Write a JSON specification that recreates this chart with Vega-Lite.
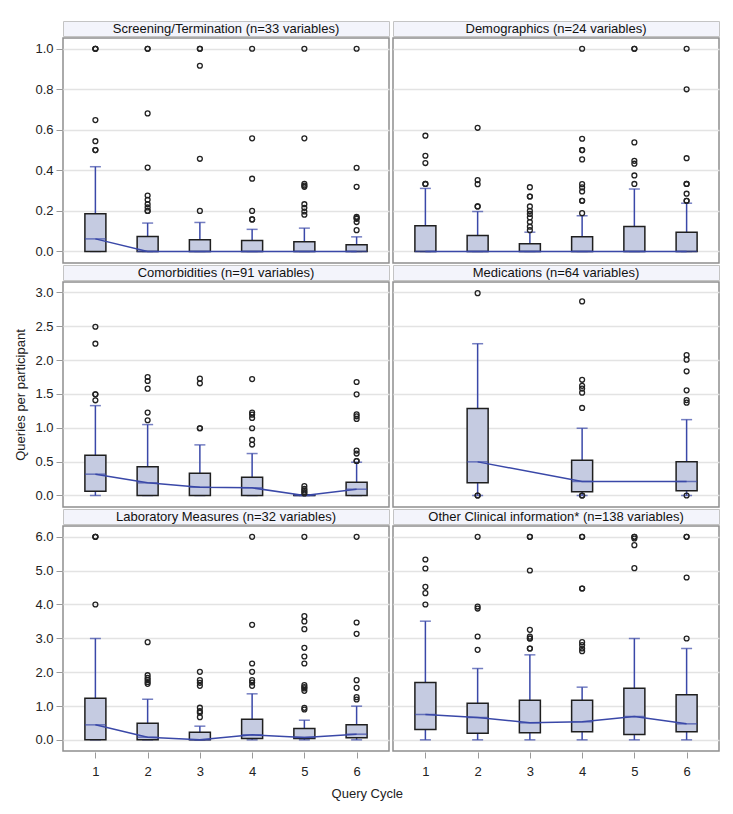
{
 "$schema": "https://vega.github.io/schema/vega-lite/v6.json",
 "padding": {"left": 14, "top": 20, "right": 10, "bottom": 5},
 "background": "white",
 "title": {"text": "Query Cycle", "orient": "bottom", "anchor": "middle", "fontSize": 13, "fontWeight": "normal", "font": "Liberation Sans", "color": "#222", "offset": 10},
 "config": {
  "font": "Liberation Sans",
  "view": {"stroke": "#8f8f8f", "strokeWidth": 1.5},
  "axis": {"labelFont": "Liberation Sans", "labelFontSize": 13, "labelColor": "#222", "labelOverlap": false, "titleFont": "Liberation Sans", "titleFontSize": 13, "titleFontWeight": "normal", "titleColor": "#222", "tickColor": "#9a9a9a", "tickSize": 6, "domain": false, "gridColor": "#e3e3e3", "gridWidth": 1.5}
 },
 "datasets": {
  "titles": [
   {"row": 1, "col": 1, "title": "Screening/Termination (n=33 variables)"},
   {"row": 1, "col": 2, "title": "Demographics (n=24 variables)"},
   {"row": 2, "col": 1, "title": "Comorbidities (n=91 variables)"},
   {"row": 2, "col": 2, "title": "Medications (n=64 variables)"},
   {"row": 3, "col": 1, "title": "Laboratory Measures (n=32 variables)"},
   {"row": 3, "col": 2, "title": "Other Clinical information* (n=138 variables)"}
  ],
  "d": [
   {"row":1,"col":1,"cycle":1,"kind":"box","q1":0,"med":0.062,"q3":0.186,"lo":0,"hi":0.418},
   {"row":1,"col":1,"cycle":2,"kind":"box","q1":0,"med":0,"q3":0.074,"lo":0,"hi":0.14},
   {"row":1,"col":1,"cycle":3,"kind":"box","q1":0,"med":0,"q3":0.058,"lo":0,"hi":0.143},
   {"row":1,"col":1,"cycle":4,"kind":"box","q1":0,"med":0,"q3":0.054,"lo":0,"hi":0.109},
   {"row":1,"col":1,"cycle":5,"kind":"box","q1":0,"med":0,"q3":0.048,"lo":0,"hi":0.115},
   {"row":1,"col":1,"cycle":6,"kind":"box","q1":0,"med":0,"q3":0.033,"lo":0,"hi":0.072},
   {"row":1,"col":1,"cycle":1,"kind":"out","value":1},
   {"row":1,"col":1,"cycle":1,"kind":"out","value":1},
   {"row":1,"col":1,"cycle":1,"kind":"out","value":1},
   {"row":1,"col":1,"cycle":1,"kind":"out","value":0.648},
   {"row":1,"col":1,"cycle":1,"kind":"out","value":0.544},
   {"row":1,"col":1,"cycle":1,"kind":"out","value":0.5},
   {"row":1,"col":1,"cycle":1,"kind":"out","value":0.5},
   {"row":1,"col":1,"cycle":2,"kind":"out","value":1},
   {"row":1,"col":1,"cycle":2,"kind":"out","value":1},
   {"row":1,"col":1,"cycle":2,"kind":"out","value":0.681},
   {"row":1,"col":1,"cycle":2,"kind":"out","value":0.414},
   {"row":1,"col":1,"cycle":2,"kind":"out","value":0.276},
   {"row":1,"col":1,"cycle":2,"kind":"out","value":0.255},
   {"row":1,"col":1,"cycle":2,"kind":"out","value":0.233},
   {"row":1,"col":1,"cycle":2,"kind":"out","value":0.217},
   {"row":1,"col":1,"cycle":2,"kind":"out","value":0.2},
   {"row":1,"col":1,"cycle":2,"kind":"out","value":0.2},
   {"row":1,"col":1,"cycle":3,"kind":"out","value":1},
   {"row":1,"col":1,"cycle":3,"kind":"out","value":1},
   {"row":1,"col":1,"cycle":3,"kind":"out","value":0.916},
   {"row":1,"col":1,"cycle":3,"kind":"out","value":0.457},
   {"row":1,"col":1,"cycle":3,"kind":"out","value":0.2},
   {"row":1,"col":1,"cycle":4,"kind":"out","value":1},
   {"row":1,"col":1,"cycle":4,"kind":"out","value":0.558},
   {"row":1,"col":1,"cycle":4,"kind":"out","value":0.359},
   {"row":1,"col":1,"cycle":4,"kind":"out","value":0.2},
   {"row":1,"col":1,"cycle":4,"kind":"out","value":0.158},
   {"row":1,"col":1,"cycle":4,"kind":"out","value":0.158},
   {"row":1,"col":1,"cycle":5,"kind":"out","value":1},
   {"row":1,"col":1,"cycle":5,"kind":"out","value":0.558},
   {"row":1,"col":1,"cycle":5,"kind":"out","value":0.334},
   {"row":1,"col":1,"cycle":5,"kind":"out","value":0.325},
   {"row":1,"col":1,"cycle":5,"kind":"out","value":0.319},
   {"row":1,"col":1,"cycle":5,"kind":"out","value":0.233},
   {"row":1,"col":1,"cycle":5,"kind":"out","value":0.215},
   {"row":1,"col":1,"cycle":5,"kind":"out","value":0.197},
   {"row":1,"col":1,"cycle":5,"kind":"out","value":0.181},
   {"row":1,"col":1,"cycle":6,"kind":"out","value":1},
   {"row":1,"col":1,"cycle":6,"kind":"out","value":0.413},
   {"row":1,"col":1,"cycle":6,"kind":"out","value":0.319},
   {"row":1,"col":1,"cycle":6,"kind":"out","value":0.171},
   {"row":1,"col":1,"cycle":6,"kind":"out","value":0.165},
   {"row":1,"col":1,"cycle":6,"kind":"out","value":0.161},
   {"row":1,"col":1,"cycle":6,"kind":"out","value":0.145},
   {"row":1,"col":1,"cycle":6,"kind":"out","value":0.105},

   {"row":1,"col":2,"cycle":1,"kind":"box","q1":0,"med":0,"q3":0.127,"lo":0,"hi":0.311},
   {"row":1,"col":2,"cycle":2,"kind":"box","q1":0,"med":0,"q3":0.079,"lo":0,"hi":0.197},
   {"row":1,"col":2,"cycle":3,"kind":"box","q1":0,"med":0,"q3":0.038,"lo":0,"hi":0.095},
   {"row":1,"col":2,"cycle":4,"kind":"box","q1":0,"med":0,"q3":0.072,"lo":0,"hi":0.176},
   {"row":1,"col":2,"cycle":5,"kind":"box","q1":0,"med":0,"q3":0.123,"lo":0,"hi":0.308},
   {"row":1,"col":2,"cycle":6,"kind":"box","q1":0,"med":0,"q3":0.095,"lo":0,"hi":0.238},
   {"row":1,"col":2,"cycle":1,"kind":"out","value":0.571},
   {"row":1,"col":2,"cycle":1,"kind":"out","value":0.472},
   {"row":1,"col":2,"cycle":1,"kind":"out","value":0.436},
   {"row":1,"col":2,"cycle":1,"kind":"out","value":0.333},
   {"row":1,"col":2,"cycle":1,"kind":"out","value":0.333},
   {"row":1,"col":2,"cycle":2,"kind":"out","value":0.61},
   {"row":1,"col":2,"cycle":2,"kind":"out","value":0.352},
   {"row":1,"col":2,"cycle":2,"kind":"out","value":0.332},
   {"row":1,"col":2,"cycle":2,"kind":"out","value":0.222},
   {"row":1,"col":2,"cycle":2,"kind":"out","value":0.222},
   {"row":1,"col":2,"cycle":3,"kind":"out","value":0.317},
   {"row":1,"col":2,"cycle":3,"kind":"out","value":0.271},
   {"row":1,"col":2,"cycle":3,"kind":"out","value":0.271},
   {"row":1,"col":2,"cycle":3,"kind":"out","value":0.222},
   {"row":1,"col":2,"cycle":3,"kind":"out","value":0.2},
   {"row":1,"col":2,"cycle":3,"kind":"out","value":0.185},
   {"row":1,"col":2,"cycle":3,"kind":"out","value":0.168},
   {"row":1,"col":2,"cycle":3,"kind":"out","value":0.145},
   {"row":1,"col":2,"cycle":3,"kind":"out","value":0.122},
   {"row":1,"col":2,"cycle":3,"kind":"out","value":0.105},
   {"row":1,"col":2,"cycle":4,"kind":"out","value":1},
   {"row":1,"col":2,"cycle":4,"kind":"out","value":0.556},
   {"row":1,"col":2,"cycle":4,"kind":"out","value":0.5},
   {"row":1,"col":2,"cycle":4,"kind":"out","value":0.5},
   {"row":1,"col":2,"cycle":4,"kind":"out","value":0.454},
   {"row":1,"col":2,"cycle":4,"kind":"out","value":0.332},
   {"row":1,"col":2,"cycle":4,"kind":"out","value":0.316},
   {"row":1,"col":2,"cycle":4,"kind":"out","value":0.296},
   {"row":1,"col":2,"cycle":4,"kind":"out","value":0.25},
   {"row":1,"col":2,"cycle":4,"kind":"out","value":0.25},
   {"row":1,"col":2,"cycle":4,"kind":"out","value":0.189},
   {"row":1,"col":2,"cycle":5,"kind":"out","value":1},
   {"row":1,"col":2,"cycle":5,"kind":"out","value":1},
   {"row":1,"col":2,"cycle":5,"kind":"out","value":0.538},
   {"row":1,"col":2,"cycle":5,"kind":"out","value":0.447},
   {"row":1,"col":2,"cycle":5,"kind":"out","value":0.433},
   {"row":1,"col":2,"cycle":5,"kind":"out","value":0.375},
   {"row":1,"col":2,"cycle":5,"kind":"out","value":0.333},
   {"row":1,"col":2,"cycle":6,"kind":"out","value":1},
   {"row":1,"col":2,"cycle":6,"kind":"out","value":0.8},
   {"row":1,"col":2,"cycle":6,"kind":"out","value":0.46},
   {"row":1,"col":2,"cycle":6,"kind":"out","value":0.333},
   {"row":1,"col":2,"cycle":6,"kind":"out","value":0.333},
   {"row":1,"col":2,"cycle":6,"kind":"out","value":0.285},
   {"row":1,"col":2,"cycle":6,"kind":"out","value":0.25},
   {"row":1,"col":2,"cycle":6,"kind":"out","value":0.25},

   {"row":2,"col":1,"cycle":1,"kind":"box","q1":0.064,"med":0.315,"q3":0.595,"lo":0,"hi":1.328},
   {"row":2,"col":1,"cycle":2,"kind":"box","q1":0,"med":0.187,"q3":0.423,"lo":0,"hi":1.048},
   {"row":2,"col":1,"cycle":3,"kind":"box","q1":0,"med":0.123,"q3":0.33,"lo":0,"hi":0.748},
   {"row":2,"col":1,"cycle":4,"kind":"box","q1":0,"med":0.113,"q3":0.27,"lo":0,"hi":0.62},
   {"row":2,"col":1,"cycle":5,"kind":"box","q1":0,"med":0,"q3":0.01,"lo":0,"hi":0.01},
   {"row":2,"col":1,"cycle":6,"kind":"box","q1":0,"med":0.093,"q3":0.197,"lo":0,"hi":0.492},
   {"row":2,"col":1,"cycle":1,"kind":"out","value":2.494},
   {"row":2,"col":1,"cycle":1,"kind":"out","value":2.243},
   {"row":2,"col":1,"cycle":1,"kind":"out","value":1.495},
   {"row":2,"col":1,"cycle":1,"kind":"out","value":1.495},
   {"row":2,"col":1,"cycle":1,"kind":"out","value":1.407},
   {"row":2,"col":1,"cycle":2,"kind":"out","value":1.751},
   {"row":2,"col":1,"cycle":2,"kind":"out","value":1.692},
   {"row":2,"col":1,"cycle":2,"kind":"out","value":1.579},
   {"row":2,"col":1,"cycle":2,"kind":"out","value":1.225},
   {"row":2,"col":1,"cycle":2,"kind":"out","value":1.112},
   {"row":2,"col":1,"cycle":3,"kind":"out","value":1.727},
   {"row":2,"col":1,"cycle":3,"kind":"out","value":1.658},
   {"row":2,"col":1,"cycle":3,"kind":"out","value":0.994},
   {"row":2,"col":1,"cycle":3,"kind":"out","value":0.994},
   {"row":2,"col":1,"cycle":4,"kind":"out","value":1.72},
   {"row":2,"col":1,"cycle":4,"kind":"out","value":1.225},
   {"row":2,"col":1,"cycle":4,"kind":"out","value":1.195},
   {"row":2,"col":1,"cycle":4,"kind":"out","value":1.146},
   {"row":2,"col":1,"cycle":4,"kind":"out","value":0.994},
   {"row":2,"col":1,"cycle":4,"kind":"out","value":0.821},
   {"row":2,"col":1,"cycle":4,"kind":"out","value":0.753},
   {"row":2,"col":1,"cycle":5,"kind":"out","value":0.138},
   {"row":2,"col":1,"cycle":5,"kind":"out","value":0.1},
   {"row":2,"col":1,"cycle":5,"kind":"out","value":0.075},
   {"row":2,"col":1,"cycle":5,"kind":"out","value":0.05},
   {"row":2,"col":1,"cycle":5,"kind":"out","value":0.03},
   {"row":2,"col":1,"cycle":6,"kind":"out","value":1.677},
   {"row":2,"col":1,"cycle":6,"kind":"out","value":1.495},
   {"row":2,"col":1,"cycle":6,"kind":"out","value":1.2},
   {"row":2,"col":1,"cycle":6,"kind":"out","value":1.17},
   {"row":2,"col":1,"cycle":6,"kind":"out","value":1.131},
   {"row":2,"col":1,"cycle":6,"kind":"out","value":0.664},
   {"row":2,"col":1,"cycle":6,"kind":"out","value":0.62},
   {"row":2,"col":1,"cycle":6,"kind":"out","value":0.51},
   {"row":2,"col":1,"cycle":6,"kind":"out","value":0.51},

   {"row":2,"col":2,"cycle":2,"kind":"box","q1":0.187,"med":0.497,"q3":1.284,"lo":0,"hi":2.243},
   {"row":2,"col":2,"cycle":4,"kind":"box","q1":0.054,"med":0.207,"q3":0.521,"lo":0,"hi":0.994},
   {"row":2,"col":2,"cycle":6,"kind":"box","q1":0.069,"med":0.207,"q3":0.497,"lo":0,"hi":1.121},
   {"row":2,"col":2,"cycle":2,"kind":"out","value":2.99},
   {"row":2,"col":2,"cycle":2,"kind":"out","value":0},
   {"row":2,"col":2,"cycle":2,"kind":"out","value":0},
   {"row":2,"col":2,"cycle":4,"kind":"out","value":2.868},
   {"row":2,"col":2,"cycle":4,"kind":"out","value":1.71},
   {"row":2,"col":2,"cycle":4,"kind":"out","value":1.62},
   {"row":2,"col":2,"cycle":4,"kind":"out","value":1.58},
   {"row":2,"col":2,"cycle":4,"kind":"out","value":1.52},
   {"row":2,"col":2,"cycle":4,"kind":"out","value":1.294},
   {"row":2,"col":2,"cycle":4,"kind":"out","value":0},
   {"row":2,"col":2,"cycle":4,"kind":"out","value":0},
   {"row":2,"col":2,"cycle":6,"kind":"out","value":2.076},
   {"row":2,"col":2,"cycle":6,"kind":"out","value":2.007},
   {"row":2,"col":2,"cycle":6,"kind":"out","value":1.835},
   {"row":2,"col":2,"cycle":6,"kind":"out","value":1.554},
   {"row":2,"col":2,"cycle":6,"kind":"out","value":1.41},
   {"row":2,"col":2,"cycle":6,"kind":"out","value":1.372},
   {"row":2,"col":2,"cycle":6,"kind":"out","value":0},

   {"row":3,"col":1,"cycle":1,"kind":"box","q1":0,"med":0.443,"q3":1.232,"lo":0,"hi":2.995},
   {"row":3,"col":1,"cycle":2,"kind":"box","q1":0,"med":0.079,"q3":0.493,"lo":0,"hi":1.2},
   {"row":3,"col":1,"cycle":3,"kind":"box","q1":0,"med":0,"q3":0.227,"lo":0,"hi":0.404},
   {"row":3,"col":1,"cycle":4,"kind":"box","q1":0.04,"med":0.148,"q3":0.611,"lo":0,"hi":1.36},
   {"row":3,"col":1,"cycle":5,"kind":"box","q1":0.04,"med":0.07,"q3":0.335,"lo":0,"hi":0.58},
   {"row":3,"col":1,"cycle":6,"kind":"box","q1":0.06,"med":0.167,"q3":0.443,"lo":0,"hi":0.995},
   {"row":3,"col":1,"cycle":1,"kind":"out","value":6},
   {"row":3,"col":1,"cycle":1,"kind":"out","value":6},
   {"row":3,"col":1,"cycle":1,"kind":"out","value":6},
   {"row":3,"col":1,"cycle":1,"kind":"out","value":4},
   {"row":3,"col":1,"cycle":2,"kind":"out","value":2.887},
   {"row":3,"col":1,"cycle":2,"kind":"out","value":1.911},
   {"row":3,"col":1,"cycle":2,"kind":"out","value":1.83},
   {"row":3,"col":1,"cycle":2,"kind":"out","value":1.77},
   {"row":3,"col":1,"cycle":2,"kind":"out","value":1.71},
   {"row":3,"col":1,"cycle":2,"kind":"out","value":1.655},
   {"row":3,"col":1,"cycle":3,"kind":"out","value":2.01},
   {"row":3,"col":1,"cycle":3,"kind":"out","value":1.764},
   {"row":3,"col":1,"cycle":3,"kind":"out","value":1.685},
   {"row":3,"col":1,"cycle":3,"kind":"out","value":1.596},
   {"row":3,"col":1,"cycle":3,"kind":"out","value":0.95},
   {"row":3,"col":1,"cycle":3,"kind":"out","value":0.847},
   {"row":3,"col":1,"cycle":3,"kind":"out","value":0.8},
   {"row":3,"col":1,"cycle":3,"kind":"out","value":0.67},
   {"row":3,"col":1,"cycle":4,"kind":"out","value":6},
   {"row":3,"col":1,"cycle":4,"kind":"out","value":3.399},
   {"row":3,"col":1,"cycle":4,"kind":"out","value":2.256},
   {"row":3,"col":1,"cycle":4,"kind":"out","value":2.01},
   {"row":3,"col":1,"cycle":4,"kind":"out","value":1.764},
   {"row":3,"col":1,"cycle":4,"kind":"out","value":1.695},
   {"row":3,"col":1,"cycle":4,"kind":"out","value":1.596},
   {"row":3,"col":1,"cycle":5,"kind":"out","value":6},
   {"row":3,"col":1,"cycle":5,"kind":"out","value":3.655},
   {"row":3,"col":1,"cycle":5,"kind":"out","value":3.5},
   {"row":3,"col":1,"cycle":5,"kind":"out","value":3.271},
   {"row":3,"col":1,"cycle":5,"kind":"out","value":2.719},
   {"row":3,"col":1,"cycle":5,"kind":"out","value":2.463},
   {"row":3,"col":1,"cycle":5,"kind":"out","value":2.256},
   {"row":3,"col":1,"cycle":5,"kind":"out","value":1.616},
   {"row":3,"col":1,"cycle":5,"kind":"out","value":1.557},
   {"row":3,"col":1,"cycle":5,"kind":"out","value":1.52},
   {"row":3,"col":1,"cycle":5,"kind":"out","value":1.448},
   {"row":3,"col":1,"cycle":5,"kind":"out","value":0.946},
   {"row":3,"col":1,"cycle":5,"kind":"out","value":0.897},
   {"row":3,"col":1,"cycle":6,"kind":"out","value":6},
   {"row":3,"col":1,"cycle":6,"kind":"out","value":3.468},
   {"row":3,"col":1,"cycle":6,"kind":"out","value":3.133},
   {"row":3,"col":1,"cycle":6,"kind":"out","value":1.764},
   {"row":3,"col":1,"cycle":6,"kind":"out","value":1.537},
   {"row":3,"col":1,"cycle":6,"kind":"out","value":1.261},
   {"row":3,"col":1,"cycle":6,"kind":"out","value":1.192},

   {"row":3,"col":2,"cycle":1,"kind":"box","q1":0.305,"med":0.749,"q3":1.695,"lo":0,"hi":3.507},
   {"row":3,"col":2,"cycle":2,"kind":"box","q1":0.197,"med":0.66,"q3":1.084,"lo":0,"hi":2.108},
   {"row":3,"col":2,"cycle":3,"kind":"box","q1":0.207,"med":0.502,"q3":1.172,"lo":0,"hi":2.512},
   {"row":3,"col":2,"cycle":4,"kind":"box","q1":0.236,"med":0.532,"q3":1.172,"lo":0,"hi":1.557},
   {"row":3,"col":2,"cycle":5,"kind":"box","q1":0.158,"med":0.69,"q3":1.527,"lo":0,"hi":2.995},
   {"row":3,"col":2,"cycle":6,"kind":"box","q1":0.236,"med":0.473,"q3":1.33,"lo":0,"hi":2.7},
   {"row":3,"col":2,"cycle":1,"kind":"out","value":5.33},
   {"row":3,"col":2,"cycle":1,"kind":"out","value":5.064},
   {"row":3,"col":2,"cycle":1,"kind":"out","value":4.522},
   {"row":3,"col":2,"cycle":1,"kind":"out","value":4.335},
   {"row":3,"col":2,"cycle":1,"kind":"out","value":4.0},
   {"row":3,"col":2,"cycle":2,"kind":"out","value":6},
   {"row":3,"col":2,"cycle":2,"kind":"out","value":3.94},
   {"row":3,"col":2,"cycle":2,"kind":"out","value":3.88},
   {"row":3,"col":2,"cycle":2,"kind":"out","value":3.054},
   {"row":3,"col":2,"cycle":2,"kind":"out","value":2.66},
   {"row":3,"col":2,"cycle":3,"kind":"out","value":6},
   {"row":3,"col":2,"cycle":3,"kind":"out","value":6},
   {"row":3,"col":2,"cycle":3,"kind":"out","value":5.005},
   {"row":3,"col":2,"cycle":3,"kind":"out","value":3.25},
   {"row":3,"col":2,"cycle":3,"kind":"out","value":3.05},
   {"row":3,"col":2,"cycle":3,"kind":"out","value":2.995},
   {"row":3,"col":2,"cycle":3,"kind":"out","value":2.995},
   {"row":3,"col":2,"cycle":3,"kind":"out","value":2.7},
   {"row":3,"col":2,"cycle":3,"kind":"out","value":2.7},
   {"row":3,"col":2,"cycle":4,"kind":"out","value":6},
   {"row":3,"col":2,"cycle":4,"kind":"out","value":6},
   {"row":3,"col":2,"cycle":4,"kind":"out","value":4.473},
   {"row":3,"col":2,"cycle":4,"kind":"out","value":4.473},
   {"row":3,"col":2,"cycle":4,"kind":"out","value":2.887},
   {"row":3,"col":2,"cycle":4,"kind":"out","value":2.8},
   {"row":3,"col":2,"cycle":4,"kind":"out","value":2.7},
   {"row":3,"col":2,"cycle":4,"kind":"out","value":2.62},
   {"row":3,"col":2,"cycle":5,"kind":"out","value":6},
   {"row":3,"col":2,"cycle":5,"kind":"out","value":6},
   {"row":3,"col":2,"cycle":5,"kind":"out","value":5.95},
   {"row":3,"col":2,"cycle":5,"kind":"out","value":5.754},
   {"row":3,"col":2,"cycle":5,"kind":"out","value":5.074},
   {"row":3,"col":2,"cycle":6,"kind":"out","value":6},
   {"row":3,"col":2,"cycle":6,"kind":"out","value":6},
   {"row":3,"col":2,"cycle":6,"kind":"out","value":4.798},
   {"row":3,"col":2,"cycle":6,"kind":"out","value":2.995}
  ]
 },
 "spacing": 0,
 "vconcat": [
  {
   "spacing": 0,
   "vconcat": [
    {
     "data": {"name": "titles"},
     "transform": [{"filter": "datum.row == 1"}],
     "facet": {"column": {"field": "col", "type": "ordinal", "header": null}},
     "spacing": 2,
     "spec": {
      "width": 326, "height": 15,
      "view": {"fill": "#f3f4fb", "stroke": "#c4c4c4", "strokeWidth": 1},
      "mark": {"type": "text", "fontSize": 13, "font": "Liberation Sans", "color": "#111"},
      "encoding": {"text": {"field": "title"}}
     }
    },
    {
     "data": {"name": "d"},
     "transform": [{"filter": "datum.row == 1"}],
     "facet": {"column": {"field": "col", "type": "ordinal", "header": null}},
     "spacing": 2,
     "spec": {
      "width": 326, "height": 225,
      "view": {"stroke": "#8f8f8f", "strokeWidth": 1.5},
      "encoding": {"x": {"field": "cycle", "type": "ordinal", "scale": {"type": "point", "domain": [1,2,3,4,5,6], "padding": 0.62}, "axis": null}},
      "layer": [
       {"transform": [{"filter": "datum.kind == 'box'"}], "mark": {"type": "rule", "color": "#3a48a8", "strokeWidth": 1.5},
        "encoding": {"y": {"field": "lo", "type": "quantitative", "title": null, "scale": {"domain": [-0.057, 1.053], "nice": false, "zero": false}, "axis": {"title": null, "values": [0,0.2,0.4,0.6,0.8,1], "format": ".1f", "grid": true, "labelPadding": 3}}, "y2": {"field": "hi"}}},
       {"transform": [{"filter": "datum.kind == 'box'"}], "mark": {"type": "tick", "color": "#3a48a8", "size": 11, "thickness": 1.5}, "encoding": {"y": {"field": "hi", "type": "quantitative", "title": null, "scale": {"domain": [-0.057, 1.053], "nice": false, "zero": false}, "axis": {"title": null, "values": [0,0.2,0.4,0.6,0.8,1], "format": ".1f", "grid": true, "labelPadding": 3}}}},
       {"transform": [{"filter": "datum.kind == 'box'"}], "mark": {"type": "tick", "color": "#3a48a8", "size": 11, "thickness": 1.5}, "encoding": {"y": {"field": "lo", "type": "quantitative", "title": null, "scale": {"domain": [-0.057, 1.053], "nice": false, "zero": false}, "axis": {"title": null, "values": [0,0.2,0.4,0.6,0.8,1], "format": ".1f", "grid": true, "labelPadding": 3}}}},
       {"transform": [{"filter": "datum.kind == 'box'"}], "mark": {"type": "bar", "width": 21, "fill": "#c5cbe1", "stroke": "#1f1f1f", "strokeWidth": 1.5}, "encoding": {"y": {"field": "q1", "type": "quantitative", "title": null, "scale": {"domain": [-0.057, 1.053], "nice": false, "zero": false}, "axis": {"title": null, "values": [0,0.2,0.4,0.6,0.8,1], "format": ".1f", "grid": true, "labelPadding": 3}}, "y2": {"field": "q3"}}},
       {"transform": [{"filter": "datum.kind == 'box'"}], "mark": {"type": "line", "color": "#3a48a8", "strokeWidth": 1.5}, "encoding": {"y": {"field": "med", "type": "quantitative", "title": null, "scale": {"domain": [-0.057, 1.053], "nice": false, "zero": false}, "axis": {"title": null, "values": [0,0.2,0.4,0.6,0.8,1], "format": ".1f", "grid": true, "labelPadding": 3}}}},
       {"transform": [{"filter": "datum.kind == 'box'"}], "mark": {"type": "tick", "color": "#3a48a8", "size": 21, "thickness": 1.5}, "encoding": {"y": {"field": "med", "type": "quantitative", "title": null, "scale": {"domain": [-0.057, 1.053], "nice": false, "zero": false}, "axis": {"title": null, "values": [0,0.2,0.4,0.6,0.8,1], "format": ".1f", "grid": true, "labelPadding": 3}}}},
       {"transform": [{"filter": "datum.kind == 'out'"}], "mark": {"type": "point", "shape": "circle", "filled": false, "color": "#222", "size": 24, "strokeWidth": 1.3, "opacity": 1}, "encoding": {"y": {"field": "value", "type": "quantitative", "title": null, "scale": {"domain": [-0.057, 1.053], "nice": false, "zero": false}, "axis": {"title": null, "values": [0,0.2,0.4,0.6,0.8,1], "format": ".1f", "grid": true, "labelPadding": 3}}}}
      ]
     }
    }
   ]
  },
  {
   "spacing": 0,
   "vconcat": [
    {
     "data": {"name": "titles"},
     "transform": [{"filter": "datum.row == 2"}],
     "facet": {"column": {"field": "col", "type": "ordinal", "header": null}},
     "spacing": 2,
     "spec": {
      "width": 326, "height": 15,
      "view": {"fill": "#f3f4fb", "stroke": "#c4c4c4", "strokeWidth": 1},
      "mark": {"type": "text", "fontSize": 13, "font": "Liberation Sans", "color": "#111"},
      "encoding": {"text": {"field": "title"}}
     }
    },
    {
     "data": {"name": "d"},
     "transform": [{"filter": "datum.row == 2"}],
     "facet": {"column": {"field": "col", "type": "ordinal", "header": null}},
     "spacing": 2,
     "spec": {
      "width": 326, "height": 225,
      "view": {"stroke": "#8f8f8f", "strokeWidth": 1.5},
      "encoding": {"x": {"field": "cycle", "type": "ordinal", "scale": {"type": "point", "domain": [1,2,3,4,5,6], "padding": 0.62}, "axis": null}},
      "layer": [
       {"transform": [{"filter": "datum.kind == 'box'"}], "mark": {"type": "rule", "color": "#3a48a8", "strokeWidth": 1.5},
        "encoding": {"y": {"field": "lo", "type": "quantitative", "title": "Queries per participant", "scale": {"domain": [-0.17, 3.155], "nice": false, "zero": false}, "axis": {"title": "Queries per participant", "values": [0,0.5,1,1.5,2,2.5,3], "format": ".1f", "grid": true, "labelPadding": 3, "titlePadding": 7}}, "y2": {"field": "hi"}}},
       {"transform": [{"filter": "datum.kind == 'box'"}], "mark": {"type": "tick", "color": "#3a48a8", "size": 11, "thickness": 1.5}, "encoding": {"y": {"field": "hi", "type": "quantitative", "title": "Queries per participant", "scale": {"domain": [-0.17, 3.155], "nice": false, "zero": false}, "axis": {"title": "Queries per participant", "values": [0,0.5,1,1.5,2,2.5,3], "format": ".1f", "grid": true, "labelPadding": 3, "titlePadding": 7}}}},
       {"transform": [{"filter": "datum.kind == 'box'"}], "mark": {"type": "tick", "color": "#3a48a8", "size": 11, "thickness": 1.5}, "encoding": {"y": {"field": "lo", "type": "quantitative", "title": "Queries per participant", "scale": {"domain": [-0.17, 3.155], "nice": false, "zero": false}, "axis": {"title": "Queries per participant", "values": [0,0.5,1,1.5,2,2.5,3], "format": ".1f", "grid": true, "labelPadding": 3, "titlePadding": 7}}}},
       {"transform": [{"filter": "datum.kind == 'box'"}], "mark": {"type": "bar", "width": 21, "fill": "#c5cbe1", "stroke": "#1f1f1f", "strokeWidth": 1.5}, "encoding": {"y": {"field": "q1", "type": "quantitative", "title": "Queries per participant", "scale": {"domain": [-0.17, 3.155], "nice": false, "zero": false}, "axis": {"title": "Queries per participant", "values": [0,0.5,1,1.5,2,2.5,3], "format": ".1f", "grid": true, "labelPadding": 3, "titlePadding": 7}}, "y2": {"field": "q3"}}},
       {"transform": [{"filter": "datum.kind == 'box'"}], "mark": {"type": "line", "color": "#3a48a8", "strokeWidth": 1.5}, "encoding": {"y": {"field": "med", "type": "quantitative", "title": "Queries per participant", "scale": {"domain": [-0.17, 3.155], "nice": false, "zero": false}, "axis": {"title": "Queries per participant", "values": [0,0.5,1,1.5,2,2.5,3], "format": ".1f", "grid": true, "labelPadding": 3, "titlePadding": 7}}}},
       {"transform": [{"filter": "datum.kind == 'box'"}], "mark": {"type": "tick", "color": "#3a48a8", "size": 21, "thickness": 1.5}, "encoding": {"y": {"field": "med", "type": "quantitative", "title": "Queries per participant", "scale": {"domain": [-0.17, 3.155], "nice": false, "zero": false}, "axis": {"title": "Queries per participant", "values": [0,0.5,1,1.5,2,2.5,3], "format": ".1f", "grid": true, "labelPadding": 3, "titlePadding": 7}}}},
       {"transform": [{"filter": "datum.kind == 'out'"}], "mark": {"type": "point", "shape": "circle", "filled": false, "color": "#222", "size": 24, "strokeWidth": 1.3, "opacity": 1}, "encoding": {"y": {"field": "value", "type": "quantitative", "title": "Queries per participant", "scale": {"domain": [-0.17, 3.155], "nice": false, "zero": false}, "axis": {"title": "Queries per participant", "values": [0,0.5,1,1.5,2,2.5,3], "format": ".1f", "grid": true, "labelPadding": 3, "titlePadding": 7}}}}
      ]
     }
    }
   ]
  },
  {
   "spacing": 0,
   "vconcat": [
    {
     "data": {"name": "titles"},
     "transform": [{"filter": "datum.row == 3"}],
     "facet": {"column": {"field": "col", "type": "ordinal", "header": null}},
     "spacing": 2,
     "spec": {
      "width": 326, "height": 15,
      "view": {"fill": "#f3f4fb", "stroke": "#c4c4c4", "strokeWidth": 1},
      "mark": {"type": "text", "fontSize": 13, "font": "Liberation Sans", "color": "#111"},
      "encoding": {"text": {"field": "title"}}
     }
    },
    {
     "data": {"name": "d"},
     "transform": [{"filter": "datum.row == 3"}],
     "facet": {"column": {"field": "col", "type": "ordinal", "header": null}},
     "spacing": 2,
     "spec": {
      "width": 326, "height": 225,
      "view": {"stroke": "#8f8f8f", "strokeWidth": 1.5},
      "encoding": {"x": {"field": "cycle", "type": "ordinal", "scale": {"type": "point", "domain": [1,2,3,4,5,6], "padding": 0.62}, "axis": {"title": null, "labelAngle": 0, "labelPadding": 7, "tickSize": 6, "grid": false}}},
      "layer": [
       {"transform": [{"filter": "datum.kind == 'box'"}], "mark": {"type": "rule", "color": "#3a48a8", "strokeWidth": 1.5},
        "encoding": {"y": {"field": "lo", "type": "quantitative", "title": null, "scale": {"domain": [-0.33, 6.32], "nice": false, "zero": false}, "axis": {"title": null, "values": [0,1,2,3,4,5,6], "format": ".1f", "grid": true, "labelPadding": 3}}, "y2": {"field": "hi"}}},
       {"transform": [{"filter": "datum.kind == 'box'"}], "mark": {"type": "tick", "color": "#3a48a8", "size": 11, "thickness": 1.5}, "encoding": {"y": {"field": "hi", "type": "quantitative", "title": null, "scale": {"domain": [-0.33, 6.32], "nice": false, "zero": false}, "axis": {"title": null, "values": [0,1,2,3,4,5,6], "format": ".1f", "grid": true, "labelPadding": 3}}}},
       {"transform": [{"filter": "datum.kind == 'box'"}], "mark": {"type": "tick", "color": "#3a48a8", "size": 11, "thickness": 1.5}, "encoding": {"y": {"field": "lo", "type": "quantitative", "title": null, "scale": {"domain": [-0.33, 6.32], "nice": false, "zero": false}, "axis": {"title": null, "values": [0,1,2,3,4,5,6], "format": ".1f", "grid": true, "labelPadding": 3}}}},
       {"transform": [{"filter": "datum.kind == 'box'"}], "mark": {"type": "bar", "width": 21, "fill": "#c5cbe1", "stroke": "#1f1f1f", "strokeWidth": 1.5}, "encoding": {"y": {"field": "q1", "type": "quantitative", "title": null, "scale": {"domain": [-0.33, 6.32], "nice": false, "zero": false}, "axis": {"title": null, "values": [0,1,2,3,4,5,6], "format": ".1f", "grid": true, "labelPadding": 3}}, "y2": {"field": "q3"}}},
       {"transform": [{"filter": "datum.kind == 'box'"}], "mark": {"type": "line", "color": "#3a48a8", "strokeWidth": 1.5}, "encoding": {"y": {"field": "med", "type": "quantitative", "title": null, "scale": {"domain": [-0.33, 6.32], "nice": false, "zero": false}, "axis": {"title": null, "values": [0,1,2,3,4,5,6], "format": ".1f", "grid": true, "labelPadding": 3}}}},
       {"transform": [{"filter": "datum.kind == 'box'"}], "mark": {"type": "tick", "color": "#3a48a8", "size": 21, "thickness": 1.5}, "encoding": {"y": {"field": "med", "type": "quantitative", "title": null, "scale": {"domain": [-0.33, 6.32], "nice": false, "zero": false}, "axis": {"title": null, "values": [0,1,2,3,4,5,6], "format": ".1f", "grid": true, "labelPadding": 3}}}},
       {"transform": [{"filter": "datum.kind == 'out'"}], "mark": {"type": "point", "shape": "circle", "filled": false, "color": "#222", "size": 24, "strokeWidth": 1.3, "opacity": 1}, "encoding": {"y": {"field": "value", "type": "quantitative", "title": null, "scale": {"domain": [-0.33, 6.32], "nice": false, "zero": false}, "axis": {"title": null, "values": [0,1,2,3,4,5,6], "format": ".1f", "grid": true, "labelPadding": 3}}}}
      ]
     }
    }
   ]
  }
 ]
}
